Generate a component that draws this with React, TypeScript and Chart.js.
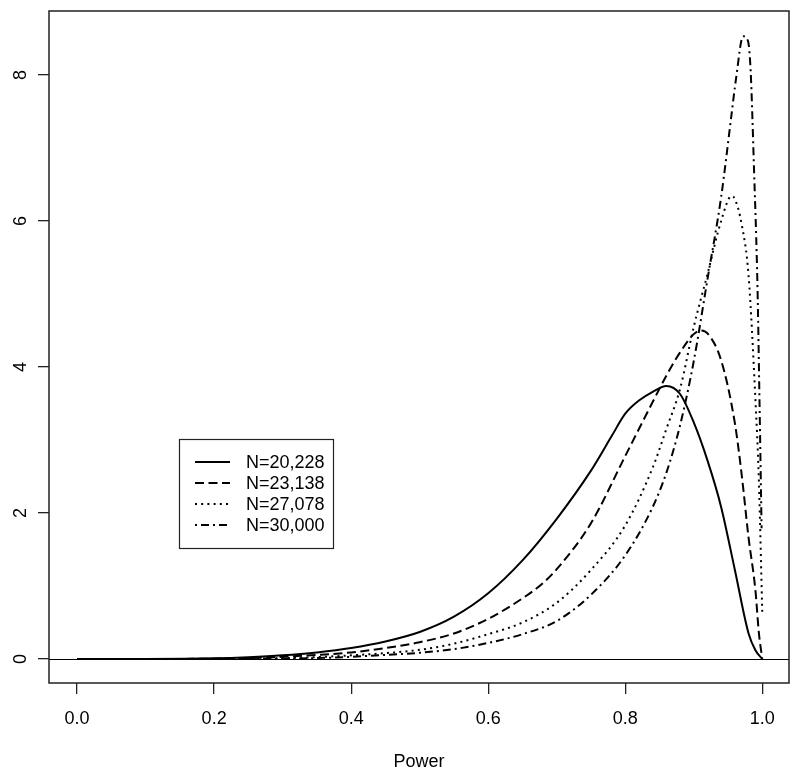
import { useEffect, useRef } from 'react';
import { Chart, registerables } from 'chart.js';

Chart.register(...registerables);

// ---- data ----
const seriesLabels = ['N=20,228', 'N=23,138', 'N=27,078', 'N=30,000'];

const power1 = [0, 0.1, 0.2, 0.25, 0.3, 0.35, 0.4, 0.45, 0.5, 0.55, 0.6, 0.65, 0.7, 0.75, 0.78, 0.8, 0.82, 0.84, 0.86, 0.88, 0.9, 0.92, 0.94, 0.96, 0.98, 0.99, 1.0];
const density1 = [0, 0.001, 0.01, 0.025, 0.05, 0.09, 0.15, 0.24, 0.37, 0.58, 0.9, 1.35, 1.92, 2.58, 3.05, 3.36, 3.54, 3.66, 3.74, 3.63, 3.24, 2.72, 2.08, 1.22, 0.35, 0.12, 0];

const power2 = [0, 0.1, 0.2, 0.25, 0.3, 0.35, 0.4, 0.45, 0.5, 0.55, 0.6, 0.65, 0.68, 0.7, 0.75, 0.8, 0.84, 0.86, 0.88, 0.9, 0.91, 0.92, 0.94, 0.96, 0.97, 0.98, 0.99, 0.995, 1.0];
const density2 = [0, 0, 0.004, 0.012, 0.03, 0.055, 0.09, 0.15, 0.23, 0.35, 0.55, 0.83, 1.04, 1.23, 1.86, 2.78, 3.52, 3.88, 4.2, 4.45, 4.5, 4.46, 4.09, 3.23, 2.52, 1.66, 0.94, 0.36, 0];

const power3 = [0, 0.2, 0.25, 0.3, 0.35, 0.4, 0.45, 0.5, 0.55, 0.6, 0.65, 0.7, 0.75, 0.8, 0.84, 0.86, 0.88, 0.9, 0.92, 0.94, 0.955, 0.96, 0.97, 0.98, 0.99, 0.995, 1.0];
const density3 = [0, 0.001, 0.004, 0.012, 0.025, 0.05, 0.08, 0.125, 0.21, 0.34, 0.5, 0.77, 1.22, 1.83, 2.62, 3.15, 3.7, 4.55, 5.27, 6.0, 6.34, 6.3, 5.95, 5.25, 3.55, 2.45, 0.63];

const power4 = [0, 0.25, 0.3, 0.35, 0.4, 0.45, 0.5, 0.55, 0.6, 0.65, 0.7, 0.75, 0.8, 0.84, 0.86, 0.88, 0.9, 0.92, 0.94, 0.955, 0.962, 0.972, 0.979, 0.983, 0.988, 0.993, 0.996, 0.999];
const density4 = [0, 0.002, 0.005, 0.012, 0.03, 0.055, 0.085, 0.135, 0.22, 0.34, 0.52, 0.88, 1.42, 2.08, 2.55, 3.2, 4.08, 5.2, 6.33, 7.45, 7.97, 8.53, 8.47, 8.06, 6.69, 5.1, 3.5, 1.79];

const xTicks = [0, 0.2, 0.4, 0.6, 0.8, 1.0];
const xTickLabels = ['0.0', '0.2', '0.4', '0.6', '0.8', '1.0'];
const yTicks = [0, 2, 4, 6, 8];
const yTickLabels = ['0', '2', '4', '6', '8'];
const xTitle = 'Power';

const xRange = [-0.041, 1.039];
const yRange = [-0.329, 8.876];

// ---- styles ----
const FONT = '"Liberation Sans", Arial, Helvetica, sans-serif';
const dashes: number[][] = [[], [9, 4.5], [2, 4.2], [2, 4, 8, 4]];

const toPoints = (xs: number[], ys: number[]) => xs.map((x, i) => ({ x, y: ys[i] }));

const boxPlugin = {
  id: 'rbox',
  beforeDatasetsDraw(chart: any) {
    const { ctx, chartArea, scales } = chart;
    const y0 = Math.round(scales.y.getPixelForValue(0)) + 0.5;
    ctx.save();
    ctx.strokeStyle = '#000';
    ctx.lineWidth = 1.2;
    ctx.beginPath();
    ctx.moveTo(chartArea.left, y0);
    ctx.lineTo(chartArea.right, y0);
    ctx.stroke();
    ctx.restore();
  },
  afterDraw(chart: any) {
    const { ctx, chartArea } = chart;
    ctx.save();
    ctx.strokeStyle = '#222';
    ctx.lineWidth = 1.5;
    ctx.strokeRect(chartArea.left, chartArea.top, chartArea.right - chartArea.left, chartArea.bottom - chartArea.top);
    ctx.restore();
  },
};

const legendPlugin = {
  id: 'rlegend',
  afterDraw(chart: any) {
    const { ctx } = chart;
    ctx.save();
    ctx.fillStyle = '#fff';
    ctx.fillRect(179.5, 439.5, 154, 109);
    ctx.strokeStyle = '#222';
    ctx.lineWidth = 1.2;
    ctx.strokeRect(179.5, 439.5, 154, 109);
    ctx.font = `18px ${FONT}`;
    ctx.textBaseline = 'middle';
    ctx.textAlign = 'left';
    chart.data.datasets.forEach((ds: any, i: number) => {
      const y = 462 + i * 21;
      ctx.strokeStyle = '#000';
      ctx.lineWidth = ds.borderWidth;
      ctx.setLineDash(ds.borderDash || []);
      ctx.beginPath();
      ctx.moveTo(195, y);
      ctx.lineTo(230, y);
      ctx.stroke();
      ctx.setLineDash([]);
      ctx.fillStyle = '#000';
      ctx.fillText(ds.label, 246, y + 1);
    });
    ctx.restore();
  },
};

export default function App() {
  const ref = useRef<HTMLCanvasElement | null>(null);

  useEffect(() => {
    document.body.style.margin = '0';
    const canvas = ref.current;
    if (!canvas) return;
    const series = [
      toPoints(power1, density1),
      toPoints(power2, density2),
      toPoints(power3, density3),
      toPoints(power4, density4),
    ];
    const chart = new Chart(canvas, {
      type: 'line',
      data: {
        datasets: series.map((pts, i) => ({
          label: seriesLabels[i],
          data: pts,
          borderColor: '#000',
          borderWidth: 2,
          borderDash: dashes[i],
          borderCapStyle: 'butt',
          pointRadius: 0,
          fill: false,
          cubicInterpolationMode: 'monotone',
        })),
      },
      options: {
        responsive: false,
        animation: false,
        devicePixelRatio: 1,
        layout: { padding: { left: 0, top: 11, right: 11, bottom: 0 } },
        plugins: { legend: { display: false }, tooltip: { enabled: false } },
        scales: {
          x: {
            type: 'linear',
            min: xRange[0],
            max: xRange[1],
            afterBuildTicks: (scale: any) => {
              scale.ticks = xTicks.map((v) => ({ value: v }));
            },
            afterFit: (scale: any) => {
              scale.height = 95;
              scale.paddingLeft = 0;
              scale.paddingRight = 0;
            },
            ticks: {
              callback: (v: any) => {
                const i = xTicks.findIndex((t) => Math.abs(t - v) < 1e-9);
                return i >= 0 ? xTickLabels[i] : '';
              },
              font: { family: FONT, size: 18 },
              color: '#000',
              padding: 14,
              maxRotation: 0,
              autoSkip: false,
            },
            grid: {
              display: true,
              drawOnChartArea: false,
              drawTicks: true,
              tickLength: 11,
              color: '#222',
              lineWidth: 1.3,
            },
            border: { display: false },
            title: {
              display: true,
              text: xTitle,
              font: { family: FONT, size: 18, lineHeight: 1 },
              color: '#000',
              padding: { top: 0, bottom: 7 },
            },
          },
          y: {
            type: 'linear',
            min: yRange[0],
            max: yRange[1],
            afterBuildTicks: (scale: any) => {
              scale.ticks = yTicks.map((v) => ({ value: v }));
            },
            afterFit: (scale: any) => {
              scale.width = 49;
              scale.paddingTop = 0;
              scale.paddingBottom = 0;
            },
            ticks: {
              callback: (v: any) => {
                const i = yTicks.findIndex((t) => Math.abs(t - v) < 1e-9);
                return i >= 0 ? yTickLabels[i] : '';
              },
              font: { family: FONT, size: 18 },
              color: '#000',
              padding: 12,
              minRotation: 90,
              maxRotation: 90,
              crossAlign: 'center',
              autoSkip: false,
            },
            grid: {
              display: true,
              drawOnChartArea: false,
              drawTicks: true,
              tickLength: 11,
              color: '#222',
              lineWidth: 1.3,
            },
            border: { display: false },
          },
        },
      },
      plugins: [boxPlugin, legendPlugin],
    } as any);
    return () => chart.destroy();
  }, []);

  return (
    <div style={{ width: 800, height: 778, background: '#fff' }}>
      <canvas ref={ref} width={800} height={778} style={{ display: 'block' }} />
    </div>
  );
}
